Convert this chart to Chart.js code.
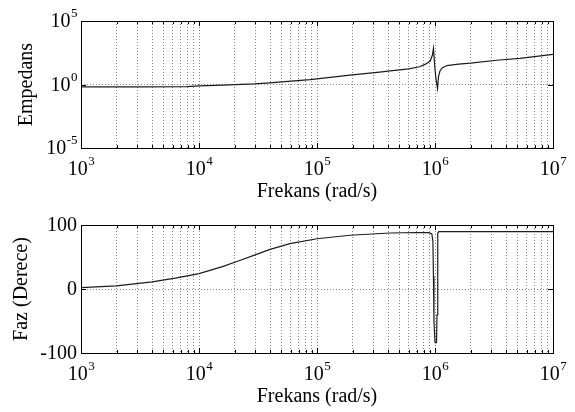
<!DOCTYPE html>
<html><head><meta charset="utf-8">
<script src="https://cdn.jsdelivr.net/npm/chart.js@4"></script>
<style>
html,body{margin:0;padding:0;background:#fff;}
canvas{display:block;}
</style></head><body>
<canvas id="c1" width="575" height="206"></canvas>
<canvas id="c2" width="575" height="206"></canvas>
<script>
// ---- data ----
const xTitle = "Frekans (rad/s)";
const zTitle = "Empedans";
const phTitle = "Faz (Derece)";
const xDecadeExps = [3, 4, 5, 6, 7];          // x tick labels 10^n
const xGridValues = [1e3,2e3,3e3,4e3,5e3,6e3,7e3,8e3,9e3,
                     1e4,2e4,3e4,4e4,5e4,6e4,7e4,8e4,9e4,
                     1e5,2e5,3e5,4e5,5e5,6e5,7e5,8e5,9e5,
                     1e6,2e6,3e6,4e6,5e6,6e6,7e6,8e6,9e6,1e7];
const zTickExps = [-5, 0, 5];                  // y tick labels 10^n (top)
const phaseTicks = [-100, 0, 100];             // y tick labels (bottom)

const zFreq   = [1e3, 3.16e3, 7.94e3, 1e4, 1.58e4, 2.95e4, 3.98e4, 5.01e4, 8.71e4, 1e5,
                 1.9e5, 3.39e5, 4.17e5, 6e5, 7.4e5, 8.3e5, 9.1e5, 9.5e5, 9.7e5, 9.85e5,
                 1.0e6, 1.02e6, 1.05e6, 1.07e6, 1.1e6, 1.15e6, 1.26e6, 1.58e6, 2e6, 3.5e6,
                 5.25e6, 1e7];
const zValues = [0.66, 0.66, 0.69, 0.78, 0.89, 1.12, 1.35, 1.62, 2.45, 2.82,
                 5.4, 9.3, 11.7, 17, 25, 40, 70, 200, 710, 100,
                 16, 2.5, 0.48, 4, 11, 20, 31, 40, 48, 85,
                 115, 240];

const phFreq   = [1e3, 2e3, 4e3, 6.3e3, 1e4, 1.58e4, 2.24e4, 2.95e4, 4e4, 5.9e4,
                  1e5, 1.9e5, 4.17e5, 7e5, 8.9e5, 9.4e5, 9.6e5, 9.7e5, 9.8e5, 1.0e6,
                  1.03e6, 1.04e6, 1.05e6, 1.06e6, 1.08e6, 1e7];
const phValues = [2, 5, 11, 17, 24, 35, 45, 53, 62, 71,
                  78.5, 84, 87.5, 88.3, 88, 86, 75, 20, -50, -84,
                  -84, -40, 40, 87, 89.5, 89.5];

// ---- drawing helpers ----
const FONT = '"Liberation Serif", "Times New Roman", serif';
const BASE_PX = 20, EXP_PX = 13, TITLE_PX = 20;

function drawPow(ctx, x, y, exp, align) {
  const base = "10", e = String(exp);
  ctx.font = BASE_PX + 'px ' + FONT;
  const wb = ctx.measureText(base).width;
  ctx.font = EXP_PX + 'px ' + FONT;
  const we = ctx.measureText(e).width;
  const w = wb + we;
  let left = align === 'center' ? x - w / 2 : x - w;
  ctx.textAlign = 'left';
  ctx.textBaseline = 'middle';
  ctx.font = BASE_PX + 'px ' + FONT;
  ctx.fillText(base, left, y);
  ctx.font = EXP_PX + 'px ' + FONT;
  ctx.fillText(e, left + wb + 0.5, y - 8);
}

function makeDecor(opts) {
  return {
    id: 'decor',
    afterDraw(chart) {
      const ctx = chart.ctx, a = chart.chartArea;
      const xs = chart.scales.x, ys = chart.scales.y;
      ctx.save();
      ctx.fillStyle = '#000';
      ctx.strokeStyle = '#000';
      ctx.lineWidth = 1;
      // inner tick marks
      ctx.beginPath();
      xGridValues.forEach(v => {
        const px = Math.round(xs.getPixelForValue(v)) + 0.5;
        const major = xDecadeExps.some(n => Math.abs(Math.pow(10, n) - v) < 1e-6 * v);
        const len = major ? 5 : 3;
        ctx.moveTo(px, a.bottom); ctx.lineTo(px, a.bottom - len);
        ctx.moveTo(px, a.top); ctx.lineTo(px, a.top + len);
      });
      opts.yTickValues.forEach(v => {
        const py = Math.round(ys.getPixelForValue(v)) + 0.5;
        ctx.moveTo(a.left, py); ctx.lineTo(a.left + 5, py);
        ctx.moveTo(a.right, py); ctx.lineTo(a.right - 5, py);
      });
      ctx.stroke();
      // box
      ctx.strokeRect(Math.round(a.left) + 0.5, Math.round(a.top) + 0.5,
                     Math.round(a.right - a.left), Math.round(a.bottom - a.top));
      // x tick labels
      xDecadeExps.forEach(n => {
        const px = xs.getPixelForValue(Math.pow(10, n));
        drawPow(ctx, px, a.bottom + 22, n, 'center');
      });
      // y tick labels
      opts.yTickValues.forEach((v, i) => {
        const py = ys.getPixelForValue(v) + 1;
        if (opts.yLog) {
          drawPow(ctx, a.left - 4, py, opts.yTickLabels[i], 'right');
        } else {
          ctx.font = BASE_PX + 'px ' + FONT;
          ctx.textAlign = 'right';
          ctx.textBaseline = 'middle';
          ctx.fillText(String(opts.yTickLabels[i]), a.left - 4, py);
        }
      });
      // titles
      ctx.font = TITLE_PX + 'px ' + FONT;
      ctx.textAlign = 'center';
      ctx.textBaseline = 'middle';
      ctx.fillText(xTitle, (a.left + a.right) / 2, a.bottom + 44);
      ctx.translate(opts.yTitleX, (a.top + a.bottom) / 2);
      ctx.rotate(-Math.PI / 2);
      ctx.fillText(opts.yTitle, 0, 0);
      ctx.restore();
    }
  };
}

function makeChart(id, freq, vals, yScale, topPad, xHeight, decor) {
  const pts = freq.map((f, i) => ({ x: f, y: vals[i] }));
  return new Chart(document.getElementById(id), {
    type: 'line',
    data: { datasets: [{ data: pts, borderColor: '#1c1c1c', borderWidth: 1.2,
                         pointRadius: 0, tension: 0, fill: false }] },
    options: {
      responsive: false, animation: false, devicePixelRatio: 1,
      layout: { padding: { left: 0, right: 22, top: topPad, bottom: 0 } },
      plugins: { legend: { display: false }, tooltip: { enabled: false } },
      scales: {
        x: {
          type: 'logarithmic', min: 1e3, max: 1e7,
          afterBuildTicks: s => { s.ticks = xGridValues.map(v => ({ value: v })); },
          afterFit: s => { s.height = xHeight; },
          ticks: { display: false },
          grid: { color: '#858585', lineWidth: 1, drawTicks: false },
          border: { display: false, dash: [1, 2] }
        },
        y: Object.assign({
          afterFit: s => { s.width = 81; },
          ticks: { display: false },
          grid: { color: '#858585', lineWidth: 1, drawTicks: false },
          border: { display: false, dash: [1, 2] }
        }, yScale)
      }
    },
    plugins: [decor]
  });
}

const zTickVals = zTickExps.map(n => Math.pow(10, n));
makeChart('c1', zFreq, zValues,
  { type: 'logarithmic', min: 1e-5, max: 1e5,
    afterBuildTicks: s => { s.ticks = zTickVals.map(v => ({ value: v })); } },
  21, 58,
  makeDecor({ yLog: true, yTickValues: zTickVals, yTickLabels: zTickExps,
              yTitle: zTitle, yTitleX: 27 }));

makeChart('c2', phFreq, phValues,
  { type: 'linear', min: -100, max: 100,
    afterBuildTicks: s => { s.ticks = phaseTicks.map(v => ({ value: v })); } },
  19, 59,
  makeDecor({ yLog: false, yTickValues: phaseTicks, yTickLabels: phaseTicks,
              yTitle: phTitle, yTitleX: 22 }));
</script>
</body></html>
